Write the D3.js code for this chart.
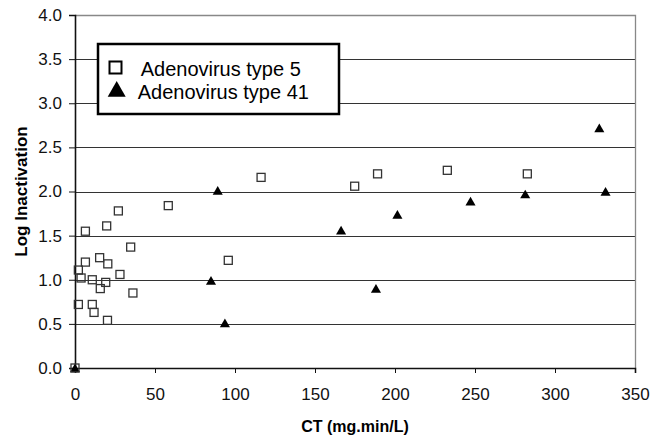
<!DOCTYPE html>
<html>
<head>
<meta charset="utf-8">
<script src="https://cdn.jsdelivr.net/npm/d3@7"></script>
<style>
  body { margin: 0; background: #fff; }
  svg text { font-family: "Liberation Sans", Arial, sans-serif; }
</style>
</head>
<body>
<div class="js-vis"></div>
<script>
// Adenovirus type 5: CT (mg.min/L) and log inactivation
const type5CT = [0, 2.1, 2.1, 3.8, 6.5, 6.5, 10.8, 10.8, 11.9, 15.4, 15.8, 19.2, 19.8, 20.3, 20.5,
    27.1, 28.1, 34.8, 36.2, 58.3, 95.8, 116.3, 174.8, 189.1, 232.7, 282.7]
const type5Log = [0, 1.11, 0.72, 1.02, 1.55, 1.20, 1.00, 0.72, 0.63, 1.25, 0.90, 0.97, 1.61, 0.54, 1.18,
    1.78, 1.06, 1.37, 0.85, 1.84, 1.22, 2.16, 2.06, 2.20, 2.24, 2.20]

// Adenovirus type 41
const type41CT = [0, 85.0, 89.2, 93.7, 166.3, 188.1, 201.5, 247.2, 281.4, 327.7, 331.6]
const type41Log = [0, 0.99, 2.01, 0.51, 1.56, 0.90, 1.74, 1.89, 1.97, 2.72, 2.0]

const xTicks = [0, 50, 100, 150, 200, 250, 300, 350]
const yTicks = [0, 0.5, 1.0, 1.5, 2.0, 2.5, 3.0, 3.5, 4.0]
const seriesNames = ["Adenovirus type 5", "Adenovirus type 41"]

const ewidth = 654, eheight = 440
const margin = { top: 15, right: 19, bottom: 72, left: 75 },
    width = ewidth - margin.left - margin.right,
    height = eheight - margin.top - margin.bottom

const x = d3.scaleLinear().domain([0, 350]).range([0, width])
const y = d3.scaleLinear().domain([0, 4]).range([height, 0])

const svg = d3.select(".js-vis").append("svg")
  .attr("width", ewidth)
  .attr("height", eheight)

const vis = svg.append("g")
  .attr("transform", "translate(" + margin.left + "," + margin.top + ")")

// gridlines
vis.append("g")
  .selectAll("line")
  .data(yTicks.filter(d => d > 0 && d < 4))
.enter().append("line")
  .attr("x1", 0).attr("x2", width)
  .attr("y1", d => Math.round(y(d)) + 0.5).attr("y2", d => Math.round(y(d)) + 0.5)
  .attr("stroke", "#333").attr("stroke-width", 1)

// plot border top/right
vis.append("path")
  .attr("d", "M0," + (Math.round(y(4)) + 0.5) + "H" + (Math.round(x(350)) + 0.5) + "V" + height)
  .attr("fill", "none").attr("stroke", "#888").attr("stroke-width", 1.3)

const xax = d3.axisBottom(x).tickValues(xTicks).tickSize(5).tickPadding(15).tickFormat(d3.format("d"))
const yax = d3.axisLeft(y).tickValues(yTicks).tickSize(6).tickPadding(7).tickFormat(d3.format(".1f"))

const gx = vis.append("g")
  .attr("transform", "translate(0," + height + ")")
  .call(xax)
const gy = vis.append("g")
  .call(yax)

for (const g of [gx, gy]) {
  g.select(".domain").attr("stroke", "#111").attr("stroke-width", 1.6)
  g.selectAll(".tick line").attr("stroke", "#111")
  g.selectAll(".tick text").attr("font-size", 17).attr("fill", "#111")
    .style("font-family", '"Liberation Sans", Arial, sans-serif')
}

// axis titles
svg.append("text")
  .attr("x", 355)
  .attr("y", 432)
  .attr("text-anchor", "middle")
  .attr("font-size", 16).attr("font-weight", "bold")
  .text("CT (mg.min/L)")

svg.append("text")
  .attr("transform", "translate(27,191.5) rotate(-90)")
  .attr("text-anchor", "middle")
  .attr("font-size", 17).attr("font-weight", "bold")
  .text("Log Inactivation")

// markers
const tri = d3.symbol().type(d3.symbolTriangle).size(44)

vis.append("g")
  .selectAll("path")
  .data(d3.range(type41CT.length))
.enter().append("path")
  .attr("d", tri)
  .attr("transform", i => "translate(" + x(type41CT[i]) + "," + (y(type41Log[i]) + 1.3) + ")")
  .attr("fill", "#000")

vis.append("g")
  .selectAll("rect")
  .data(d3.range(type5CT.length))
.enter().append("rect")
  .attr("x", i => x(type5CT[i]) - 4)
  .attr("y", i => y(type5Log[i]) - 4)
  .attr("width", 8).attr("height", 8)
  .attr("fill", "none")
  .attr("stroke", "#333").attr("stroke-width", 1.3)

// legend
const leg = svg.append("g")
  .attr("transform", "translate(98,44)")

leg.append("rect")
  .attr("width", 241).attr("height", 70)
  .attr("fill", "#fff").attr("stroke", "#000").attr("stroke-width", 2.5)

leg.append("rect")
  .attr("x", 11.5).attr("y", 17.5).attr("width", 12).attr("height", 12)
  .attr("fill", "#fff").attr("stroke", "#000").attr("stroke-width", 2)

leg.append("path")
  .attr("d", d3.symbol().type(d3.symbolTriangle).size(140))
  .attr("transform", "translate(18.7,47.5)")
  .attr("fill", "#000")

leg.selectAll("text.lbl")
  .data(seriesNames)
.enter().append("text")
  .attr("class", "lbl")
  .attr("x", (d, i) => i === 0 ? 42.7 : 39.7)
  .attr("y", (d, i) => i === 0 ? 32 : 55.3)
  .attr("font-size", 20)
  .text(d => d)
</script>
</body>
</html>
